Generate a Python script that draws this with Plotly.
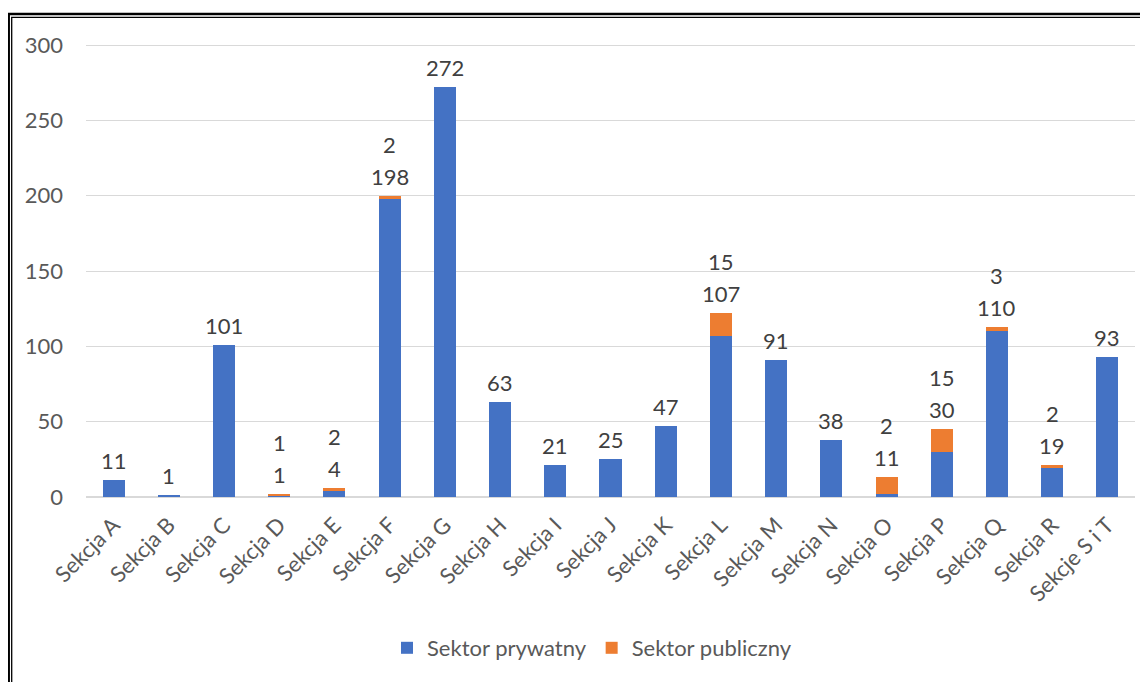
import plotly.graph_objects as go

categories = ["Sekcja A", "Sekcja B", "Sekcja C", "Sekcja D", "Sekcja E", "Sekcja F",
              "Sekcja G", "Sekcja H", "Sekcja I", "Sekcja J", "Sekcja K", "Sekcja L",
              "Sekcja M", "Sekcja N", "Sekcja O", "Sekcja P", "Sekcja Q", "Sekcja R",
              "Sekcje S i T"]
private = [11, 1, 101, 1, 4, 198, 272, 63, 21, 25, 47, 107, 91, 38, 2, 30, 110, 19, 93]
public = [0, 0, 0, 1, 2, 2, 0, 0, 0, 0, 0, 15, 0, 0, 11, 15, 3, 2, 0]
label_lower = ["11", "1", "101", "1", "4", "198", "272", "63", "21", "25", "47", "107",
               "91", "38", "11", "30", "110", "19", "93"]
label_upper = ["", "", "", "1", "2", "2", "", "", "", "", "", "15",
               "", "", "2", "15", "3", "2", ""]
y_ticks = [0, 50, 100, 150, 200, 250, 300]

BLUE = "#4472C4"
ORANGE = "#ED7D31"
FONT = "Lato, Carlito, Calibri, sans-serif"
FS = 22

fig = go.Figure()
fig.add_trace(go.Bar(x=categories, y=private, name="Sektor prywatny",
                     marker=dict(color=BLUE, line=dict(width=0)), width=0.4))
fig.add_trace(go.Bar(x=categories, y=public, name="Sektor publiczny",
                     marker=dict(color=ORANGE, line=dict(width=0)), width=0.4))

annotations = []
for c, p, q, lo, up in zip(categories, private, public, label_lower, label_upper):
    total = p + q
    annotations.append(dict(x=c, y=total, text=lo, showarrow=False, yanchor="bottom",
                            yshift=4, font=dict(size=FS, color="#404040", family=FONT)))
    if up:
        annotations.append(dict(x=c, y=total, text=up, showarrow=False, yanchor="bottom",
                                yshift=36, font=dict(size=FS, color="#404040", family=FONT)))

# page body has an 8px margin; figure coordinates are screen coords minus 8
OFF = 8
W, H = 1140, 674
L, R, T, B = 78, 13, 22, 185
pw, ph = W - L - R, H - T - B

def px(x):
    return (x - OFF - L) / pw

def py(y):
    return (H - B - (y - OFF)) / ph

shapes = [
    dict(type="rect", xref="paper", yref="paper", x0=px(8.7), y0=py(700), x1=px(1160), y1=py(14),
         line=dict(color="black", width=2.5), fillcolor="rgba(0,0,0,0)", layer="above"),
    dict(type="rect", xref="paper", yref="paper", x0=px(11.7), y0=py(700), x1=px(1160), y1=py(17.3),
         line=dict(color="black", width=1.3), fillcolor="rgba(0,0,0,0)", layer="above"),
]

fig.update_layout(
    barmode="stack",
    width=W, height=H,
    margin=dict(l=L, r=R, t=T, b=B, autoexpand=False),
    paper_bgcolor="white", plot_bgcolor="white",
    font=dict(family=FONT, size=FS, color="#595959"),
    xaxis=dict(tickangle=-45, showgrid=False, showline=False, ticks="",
               ticklabelstandoff=10, tickfont=dict(size=FS, color="#595959")),
    yaxis=dict(range=[0, 310], tickvals=y_ticks, showgrid=True, gridcolor="#D9D9D9",
               gridwidth=1, zeroline=True, zerolinecolor="#D9D9D9", zerolinewidth=2,
               ticks="", ticklabelstandoff=22, tickfont=dict(size=FS, color="#595959")),
    legend=dict(orientation="h", x=px(592), xanchor="center", y=py(648), yanchor="middle",
                font=dict(size=FS, color="#595959"), traceorder="normal"),
    annotations=annotations,
    shapes=shapes,
)

fig.write_html("out.html")
